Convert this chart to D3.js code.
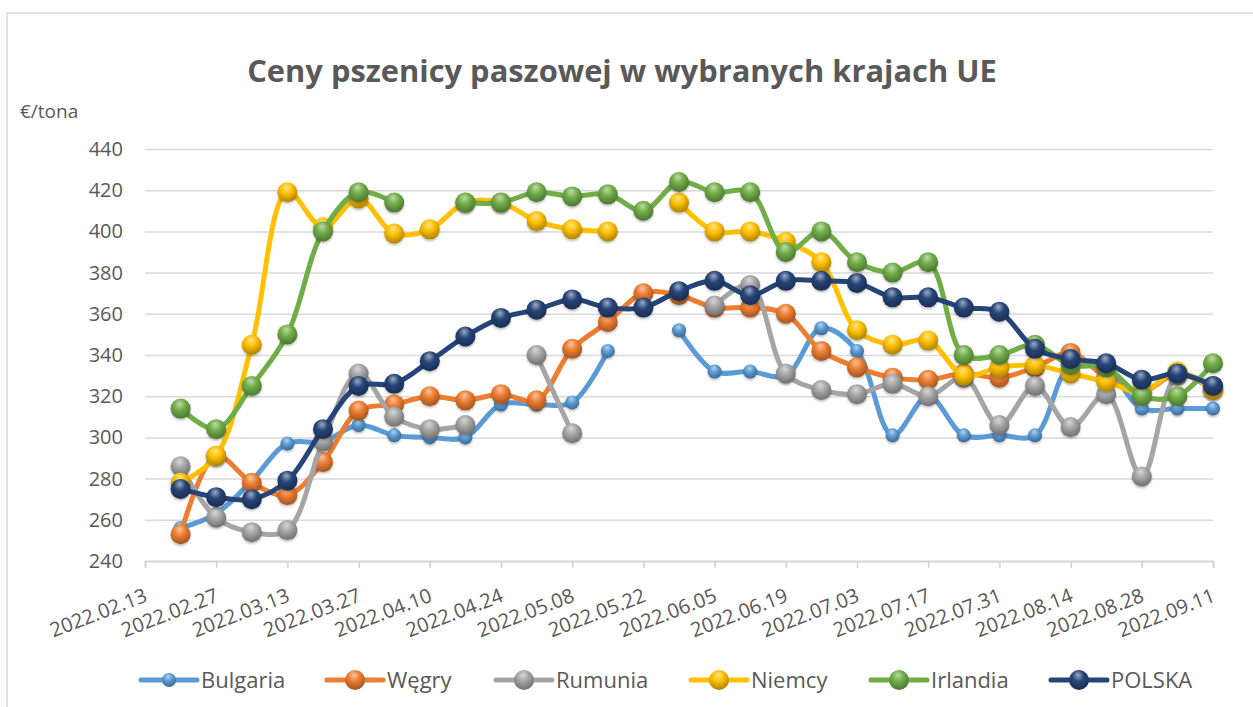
<!DOCTYPE html>
<html>
<head>
<meta charset="utf-8">
<script src="https://cdn.jsdelivr.net/npm/d3@7"></script>
<style>
  body { margin: 0; background: #fff; }
  svg text { font-family: "Open Sans", sans-serif; fill: #595959; }
</style>
</head>
<body>
<svg id="chart"></svg>
<script>
const kWidth = 1253;
const kHeight = 707;
const kLeft = 145, kRight = 1213, kTop = 149, kBottom = 561;

// weekly notes
const dates = [
  "2022.02.20", "2022.02.27", "2022.03.06", "2022.03.13", "2022.03.20", "2022.03.27",
  "2022.04.03", "2022.04.10", "2022.04.17", "2022.04.24", "2022.05.01", "2022.05.08",
  "2022.05.15", "2022.05.22", "2022.05.29", "2022.06.05", "2022.06.12", "2022.06.19",
  "2022.06.26", "2022.07.03", "2022.07.10", "2022.07.17", "2022.07.24", "2022.07.31",
  "2022.08.07", "2022.08.14", "2022.08.21", "2022.08.28", "2022.09.04", "2022.09.11"
];
const tickLabels = [
  "2022.02.13", "2022.02.27", "2022.03.13", "2022.03.27", "2022.04.10", "2022.04.24",
  "2022.05.08", "2022.05.22", "2022.06.05", "2022.06.19", "2022.07.03", "2022.07.17",
  "2022.07.31", "2022.08.14", "2022.08.28", "2022.09.11"
];
const yTicks = [240, 260, 280, 300, 320, 340, 360, 380, 400, 420, 440];

const bulgaria = [256, 263, 279, 297, 298, 306, 301, 300, 300, 316, 316, 317, 342, null, 352,
  332, 332, 330, 353, 342, 301, 320, 301, 301, 301, 335, 333, 314, 314, 314];
const wegry = [253, 291, 278, 272, 288, 313, 316, 320, 318, 321, 318, 343, 356, 370, 369,
  363, 363, 360, 342, 334, 329, 328, 331, 329, 334, 341, 329, 322, 331, 323];
const rumunia = [286, 261, 254, 255, 298, 331, 310, 304, 306, null, 340, 302, null, null, null,
  364, 374, 331, 323, 321, 326, 320, 329, 306, 325, 305, 321, 281, 330, 325];
const niemcy = [278, 291, 345, 419, 402, 416, 399, 401, 414, 414, 405, 401, 400, null, 414,
  400, 400, 395, 385, 352, 345, 347, 330, 334, 335, 331, 327, 322, 332, 323];
const irlandia = [314, 304, 325, 350, 400, 419, 414, null, 414, 414, 419, 417, 418, 410, 424,
  419, 419, 390, 400, 385, 380, 385, 340, 340, 345, 335, 334, 320, 320, 336];
const polska = [275, 271, 270, 279, 304, 325, 326, 337, 349, 358, 362, 367, 363, 363, 371,
  376, 369, 376, 376, 375, 368, 368, 363, 361, 343, 338, 336, 328, 331, 325];

const seriesNames = ["Bulgaria", "Węgry", "Rumunia", "Niemcy", "Irlandia", "POLSKA"];
const seriesValues = [bulgaria, wegry, rumunia, niemcy, irlandia, polska];
const seriesColors = ["#5B9BD5", "#ED7D31", "#A5A5A5", "#FFC000", "#70AD47", "#264478"];
const markerRadius = [7, 10, 10, 10, 10, 10];
const legendX = [141, 327, 496, 691, 871, 1051];

const parseDate = d3.utcParse("%Y.%m.%d");

const svg = d3.select("#chart")
  .attr("width", kWidth)
  .attr("height", kHeight);

// sphere look for the markers
const defs = svg.append("defs");
seriesColors.forEach((c, i) => {
  const grad = defs.append("radialGradient")
    .attr("id", `ball${i}`)
    .attr("cx", "45%").attr("cy", "35%").attr("r", "65%")
    .attr("fx", "45%").attr("fy", "25%");
  grad.append("stop").attr("offset", "0%").attr("stop-color", d3.interpolateRgb(c, "#fff")(0.55));
  grad.append("stop").attr("offset", "45%").attr("stop-color", c);
  grad.append("stop").attr("offset", "100%").attr("stop-color", d3.color(c).darker(1.1));
});
const shadow = defs.append("filter").attr("id", "shadow")
  .attr("x", "-50%").attr("y", "-50%").attr("width", "200%").attr("height", "200%");
shadow.append("feDropShadow").attr("dx", 0).attr("dy", 1.5).attr("stdDeviation", 1.2)
  .attr("flood-color", "#000").attr("flood-opacity", 0.3);

// chart frame (only top/left show)
svg.append("rect")
  .attr("x", 7).attr("y", 13)
  .attr("width", 1260).attr("height", 720)
  .attr("fill", "none").attr("stroke", "#D9D9D9").attr("stroke-width", 1.5);

const x = d3.scaleUtc()
  .domain([parseDate(tickLabels[0]), parseDate(tickLabels[tickLabels.length - 1])])
  .range([kLeft, kRight]);
const y = d3.scaleLinear().domain([240, 440]).range([kBottom, kTop]);

// gridlines + y labels
const yAxis = svg.append("g")
  .attr("transform", `translate(${kLeft},0)`)
  .call(d3.axisLeft(y).tickValues(yTicks).tickSize(-(kRight - kLeft)).tickPadding(22));
yAxis.select(".domain").remove();
yAxis.selectAll(".tick line").attr("stroke", "#D9D9D9").attr("stroke-width", 1.5);
yAxis.selectAll(".tick text").attr("font-size", 20).attr("fill", "#595959");

// x axis
const xAxis = svg.append("g")
  .attr("transform", `translate(0,${kBottom})`)
  .call(d3.axisBottom(x)
    .tickValues(tickLabels.map(parseDate))
    .tickSize(7)
    .tickFormat(d3.utcFormat("%Y.%m.%d")));
xAxis.select(".domain").attr("stroke", "#D0D0D0").attr("stroke-width", 1.5);
xAxis.selectAll(".tick line").attr("stroke", "#D0D0D0").attr("stroke-width", 1.5);
xAxis.selectAll(".tick text")
  .attr("font-size", 20)
  .attr("fill", "#595959")
  .attr("text-anchor", "end")
  .attr("x", 0).attr("y", 0).attr("dy", 0)
  .attr("transform", "translate(3,40) rotate(-21)");

// series
const line = d3.line()
  .defined(d => d.v != null)
  .x(d => x(d.date))
  .y(d => y(d.v))
  .curve(d3.curveCatmullRom.alpha(0.5));

seriesNames.forEach((name, i) => {
  const pts = dates.map((d, k) => ({ date: parseDate(d), v: seriesValues[i][k] }));
  const g = svg.append("g");
  g.append("path")
    .datum(pts)
    .attr("d", line)
    .attr("fill", "none")
    .attr("stroke", seriesColors[i])
    .attr("stroke-width", 5)
    .attr("stroke-linejoin", "round")
    .attr("stroke-linecap", "round");
  g.selectAll("circle")
    .data(pts.filter(p => p.v != null))
    .enter()
    .append("circle")
    .attr("cx", d => x(d.date))
    .attr("cy", d => y(d.v))
    .attr("r", markerRadius[i])
    .attr("fill", `url(#ball${i})`)
    .attr("filter", "url(#shadow)");
});

// title
const title = svg.append("text")
  .attr("x", 622).attr("y", 82)
  .attr("text-anchor", "middle")
  .attr("font-weight", "bold")
  .attr("font-size", 26)
  .attr("fill", "#595959")
  .text("Ceny pszenicy paszowej w wybranych krajach UE");
const tw = title.node().getComputedTextLength();
title.attr("font-size", 26 * 750 / tw);

svg.append("text")
  .attr("x", 20).attr("y", 118)
  .attr("font-size", 19)
  .attr("fill", "#595959")
  .text("€/tona");

// legend
const legend = svg.append("g").attr("transform", "translate(0,680)");
seriesNames.forEach((name, i) => {
  const item = legend.append("g").attr("transform", `translate(${legendX[i]},0)`);
  item.append("line")
    .attr("x1", 0).attr("x2", 56).attr("y1", 0).attr("y2", 0)
    .attr("stroke", seriesColors[i]).attr("stroke-width", 5).attr("stroke-linecap", "round");
  item.append("circle")
    .attr("cx", 28).attr("cy", 0).attr("r", markerRadius[i])
    .attr("fill", `url(#ball${i})`);
  item.append("text")
    .attr("x", 60).attr("y", 0).attr("dy", "0.35em")
    .attr("font-size", 22)
    .attr("fill", "#595959")
    .text(name);
});
</script>
</body>
</html>
